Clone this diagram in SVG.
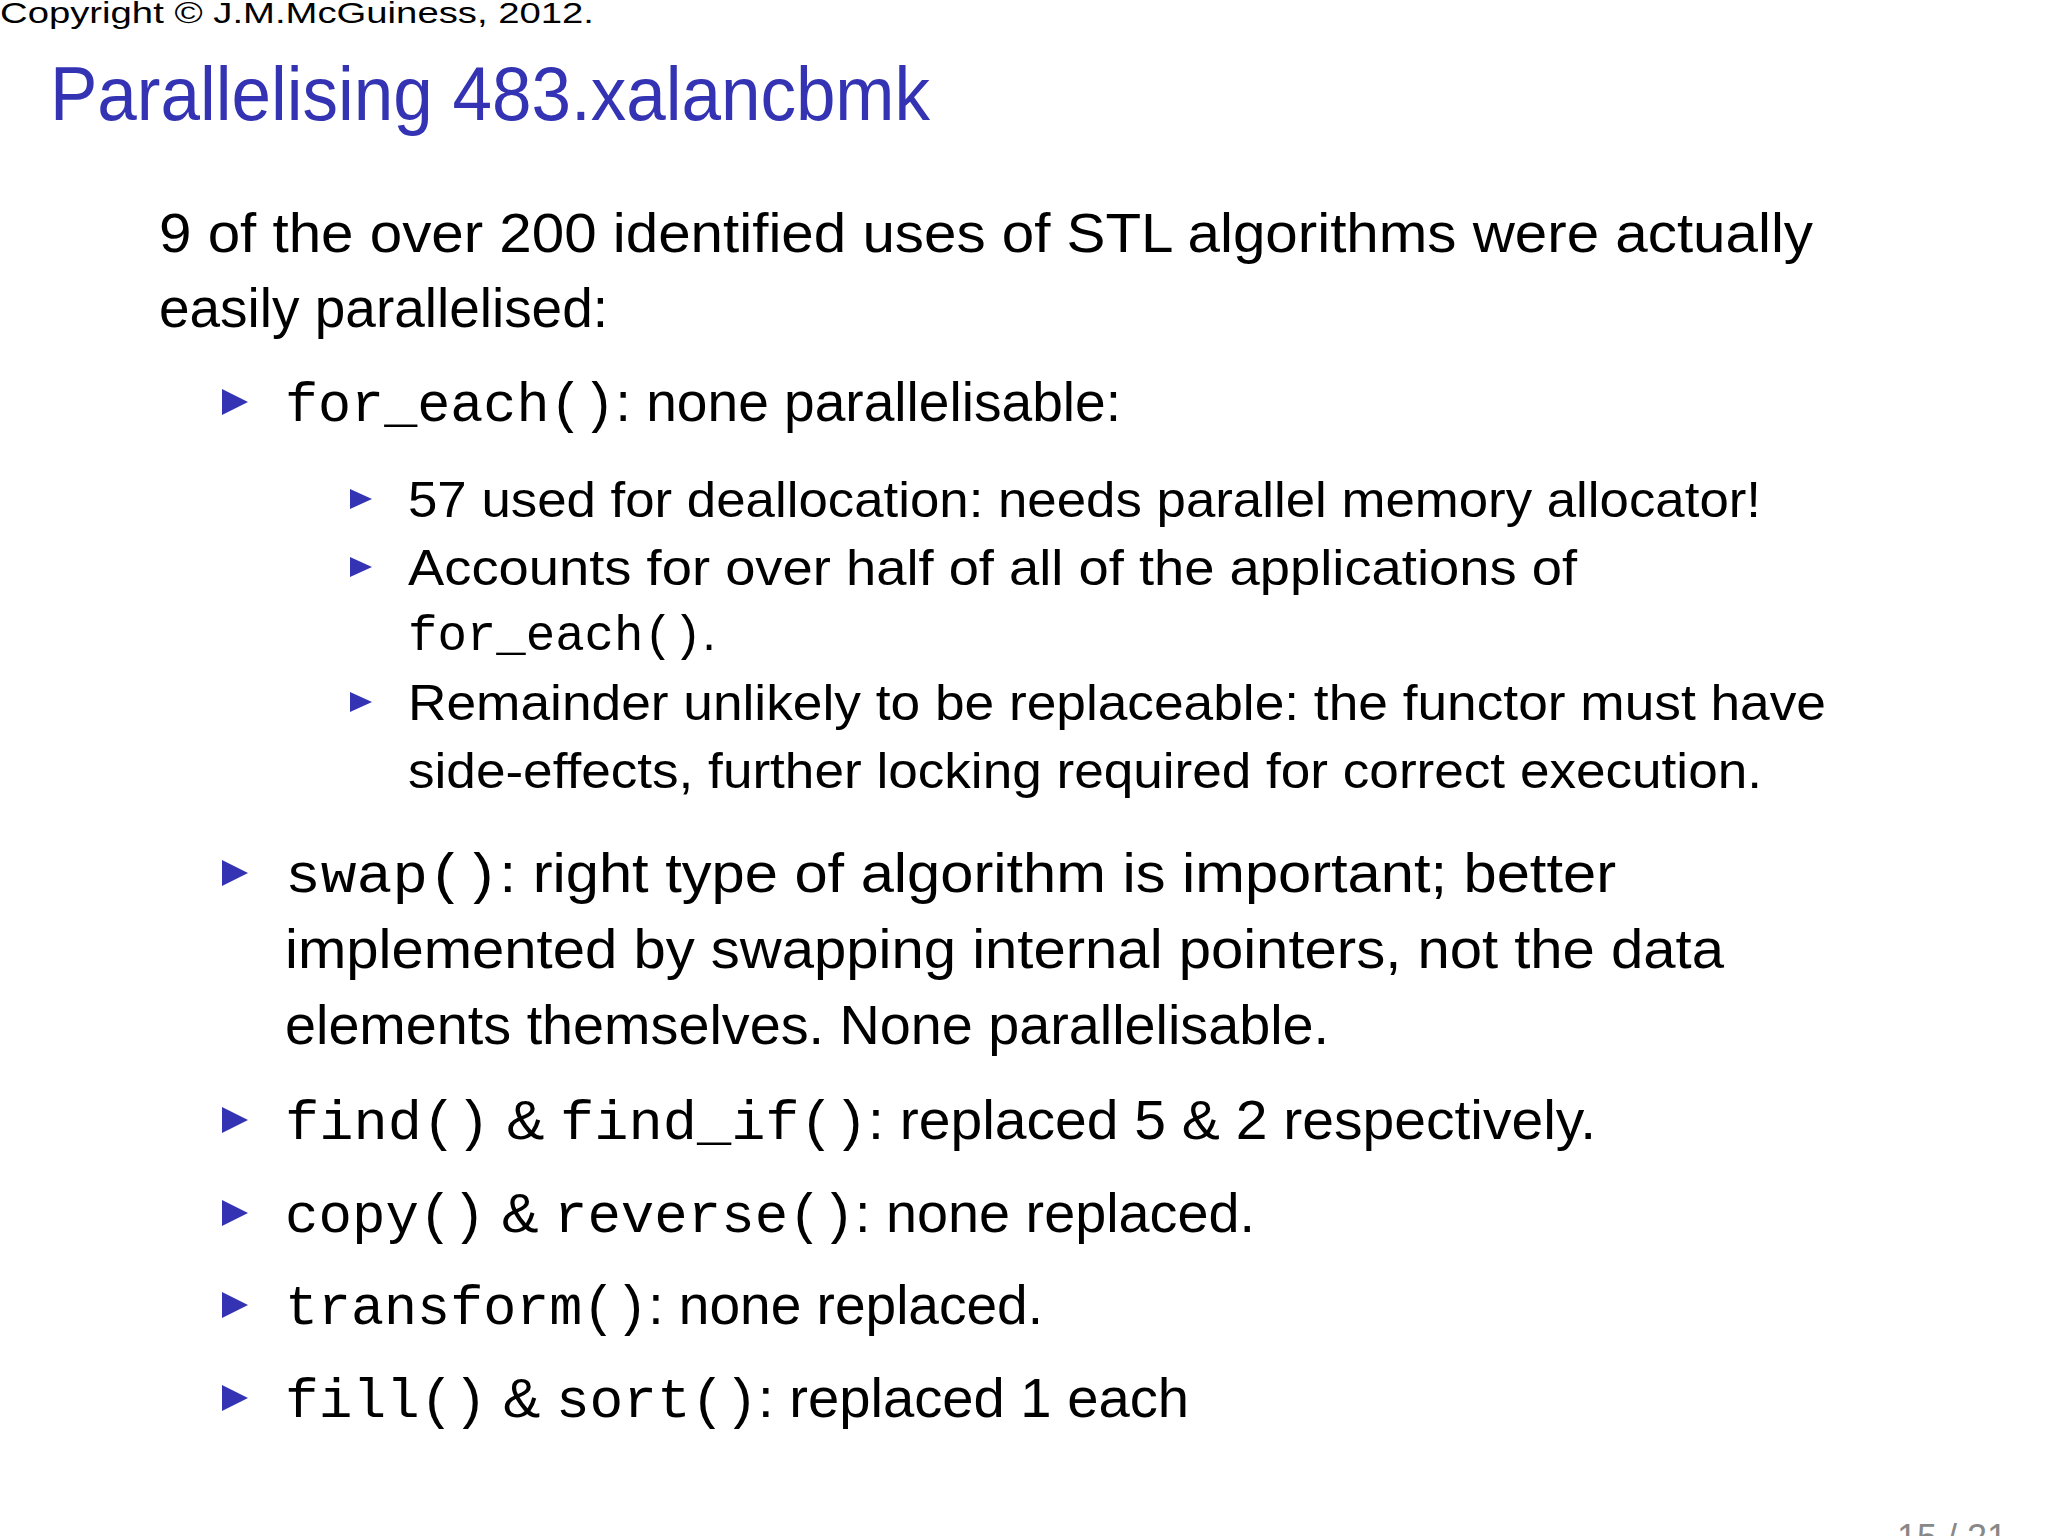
<svg xmlns="http://www.w3.org/2000/svg" width="2048" height="1536" viewBox="0 0 2048 1536">
<style>
.t{font-family:"Liberation Sans","DejaVu Sans",sans-serif;fill:#000}
.m{font-family:"Liberation Mono","DejaVu Sans Mono",monospace}
.b{fill:#3333b3}
</style>
<rect width="2048" height="1536" fill="#fff"/>
<g id="header">
<text class="t" x="0" y="23" font-size="29" textLength="594" lengthAdjust="spacingAndGlyphs">Copyright © J.M.McGuiness, 2012.</text>
<text class="t" x="50" y="120" font-size="76" style="fill:#3333b3" textLength="880" lengthAdjust="spacingAndGlyphs">Parallelising 483.xalancbmk</text>
</g>
<g id="body" font-size="55">
<text class="t" x="159" y="252" textLength="1654" lengthAdjust="spacingAndGlyphs">9 of the over 200 identified uses of STL algorithms were actually</text>
<text class="t" x="159" y="327" textLength="449" lengthAdjust="spacingAndGlyphs">easily parallelised:</text>
<polygon class="b" points="222,389 248,402 222,415"/>
<text class="t" x="285" y="421" textLength="836" lengthAdjust="spacingAndGlyphs"><tspan class="m">for_each()</tspan>: none parallelisable:</text>
<g font-size="50">
<polygon class="b" points="350,489 372,499 350,509"/>
<text class="t" x="408" y="517" textLength="1353" lengthAdjust="spacingAndGlyphs">57 used for deallocation: needs parallel memory allocator!</text>
<polygon class="b" points="350,557 372,567 350,577"/>
<text class="t" x="408" y="585" textLength="1169" lengthAdjust="spacingAndGlyphs">Accounts for over half of all of the applications of</text>
<text class="t" x="408" y="650" textLength="308" lengthAdjust="spacingAndGlyphs"><tspan class="m">for_each()</tspan>.</text>
<polygon class="b" points="350,692 372,702 350,712"/>
<text class="t" x="408" y="720" textLength="1418" lengthAdjust="spacingAndGlyphs">Remainder unlikely to be replaceable: the functor must have</text>
<text class="t" x="408" y="788" textLength="1354" lengthAdjust="spacingAndGlyphs">side-effects, further locking required for correct execution.</text>
</g>
<polygon class="b" points="222,860 248,873 222,886"/>
<text class="t" x="285" y="892" textLength="1331" lengthAdjust="spacingAndGlyphs"><tspan class="m">swap()</tspan>: right type of algorithm is important; better</text>
<text class="t" x="285" y="968" textLength="1439" lengthAdjust="spacingAndGlyphs">implemented by swapping internal pointers, not the data</text>
<text class="t" x="285" y="1044" textLength="1044" lengthAdjust="spacingAndGlyphs">elements themselves.  None parallelisable.</text>
<polygon class="b" points="222,1107 248,1120 222,1133"/>
<text class="t" x="285" y="1139" textLength="1311" lengthAdjust="spacingAndGlyphs"><tspan class="m">find()</tspan> &amp; <tspan class="m">find_if()</tspan>: replaced 5 &amp; 2 respectively.</text>
<polygon class="b" points="222,1200 248,1213 222,1226"/>
<text class="t" x="285" y="1232" textLength="970" lengthAdjust="spacingAndGlyphs"><tspan class="m">copy()</tspan> &amp; <tspan class="m">reverse()</tspan>: none replaced.</text>
<polygon class="b" points="222,1292 248,1305 222,1318"/>
<text class="t" x="285" y="1324" textLength="758" lengthAdjust="spacingAndGlyphs"><tspan class="m">transform()</tspan>: none replaced.</text>
<polygon class="b" points="222,1385 248,1398 222,1411"/>
<text class="t" x="285" y="1417" textLength="904" lengthAdjust="spacingAndGlyphs"><tspan class="m">fill()</tspan> &amp; <tspan class="m">sort()</tspan>: replaced 1 each</text>
</g>
<g id="footer">
<text class="t" x="1897" y="1550" font-size="36" style="fill:#888">15 / 21</text>
</g>
</svg>
